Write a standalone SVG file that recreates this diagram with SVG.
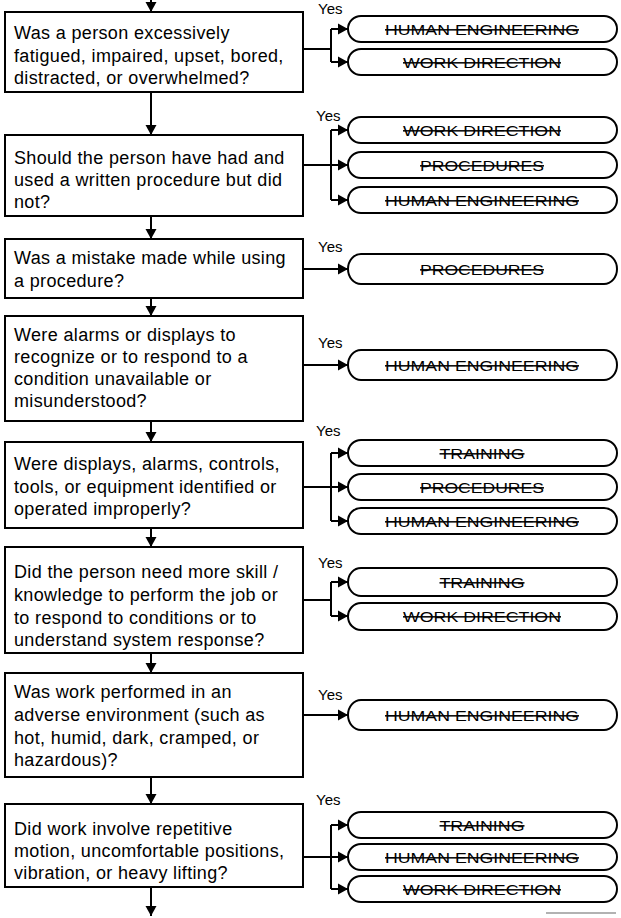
<svg xmlns="http://www.w3.org/2000/svg" width="621" height="918" viewBox="0 0 621 918">
<style>
.box{fill:#fff;stroke:#000;stroke-width:2}
.pill{fill:#fff;stroke:#000;stroke-width:2}
.q{font-family:"Liberation Sans",Arial,sans-serif;font-size:18px;letter-spacing:0.35px;fill:#000}
.p{font-family:"Liberation Sans",Arial,sans-serif;font-size:15px;fill:#000;text-anchor:middle;text-decoration:line-through}
.yes{font-family:"Liberation Sans",Arial,sans-serif;font-size:15px;fill:#000}
.c{fill:none;stroke:#000;stroke-width:2}
.a{fill:none;stroke:#000;stroke-width:2;marker-end:url(#ah)}
</style>
<defs>
<marker id="ah" markerUnits="userSpaceOnUse" markerWidth="12" markerHeight="12" refX="10" refY="6" orient="auto">
<path d="M0,0.5 L10,6 L0,11.5 z" fill="#000"/>
</marker>
</defs>
<rect width="621" height="918" fill="#fff"/>

<g id="connectors">
<line class="a" x1="151" y1="-6" x2="151" y2="12"/>
<line class="a" x1="151" y1="92" x2="151" y2="135"/>
<line class="a" x1="151" y1="216" x2="151" y2="239"/>
<line class="a" x1="151" y1="298" x2="151" y2="316"/>
<line class="a" x1="151" y1="421" x2="151" y2="442"/>
<line class="a" x1="151" y1="528" x2="151" y2="547"/>
<line class="a" x1="151" y1="653" x2="151" y2="673"/>
<line class="a" x1="151" y1="777" x2="151" y2="804"/>
<line class="a" x1="151" y1="887" x2="151" y2="916"/>
<!-- row 1 -->
<path class="c" d="M303,49 H331 M331,29 V62"/>
<line class="a" x1="331" y1="29" x2="348" y2="29"/>
<line class="a" x1="331" y1="62" x2="348" y2="62"/>
<!-- row 2 -->
<path class="c" d="M303,165 H331 M331,130 V200"/>
<line class="a" x1="331" y1="130" x2="348" y2="130"/>
<line class="a" x1="331" y1="165" x2="348" y2="165"/>
<line class="a" x1="331" y1="200" x2="348" y2="200"/>
<!-- row 3 -->
<line class="a" x1="303" y1="269" x2="348" y2="269"/>
<!-- row 4 -->
<line class="a" x1="303" y1="365" x2="348" y2="365"/>
<!-- row 5 -->
<path class="c" d="M303,487 H331 M331,453 V521"/>
<line class="a" x1="331" y1="453" x2="348" y2="453"/>
<line class="a" x1="331" y1="487" x2="348" y2="487"/>
<line class="a" x1="331" y1="521" x2="348" y2="521"/>
<!-- row 6 -->
<path class="c" d="M303,600 H331 M331,582 V616"/>
<line class="a" x1="331" y1="582" x2="348" y2="582"/>
<line class="a" x1="331" y1="616" x2="348" y2="616"/>
<!-- row 7 -->
<line class="a" x1="303" y1="715" x2="348" y2="715"/>
<!-- row 8 -->
<path class="c" d="M303,857 H331 M331,825 V889"/>
<line class="a" x1="331" y1="825" x2="348" y2="825"/>
<line class="a" x1="331" y1="857" x2="348" y2="857"/>
<line class="a" x1="331" y1="889" x2="348" y2="889"/>
<line x1="546" y1="913" x2="616" y2="913" stroke="#999" stroke-width="1.5"/>
</g>

<g id="yes-labels">
<text class="yes" x="318" y="14">Yes</text>
<text class="yes" x="316" y="121">Yes</text>
<text class="yes" x="318" y="252">Yes</text>
<text class="yes" x="318" y="348">Yes</text>
<text class="yes" x="316" y="436">Yes</text>
<text class="yes" x="318" y="568">Yes</text>
<text class="yes" x="318" y="700">Yes</text>
<text class="yes" x="316" y="805">Yes</text>
</g>

<g id="q1"><rect class="box" x="5" y="12" width="298" height="80"/>
<text class="q" x="14" y="39">Was a person excessively</text>
<text class="q" x="14" y="62">fatigued, impaired, upset, bored,</text>
<text class="q" x="14" y="84">distracted, or overwhelmed?</text></g>

<g id="q2"><rect class="box" x="5" y="135" width="298" height="81"/>
<text class="q" x="14" y="164">Should the person have had and</text>
<text class="q" x="14" y="186">used a written procedure but did</text>
<text class="q" x="14" y="208">not?</text></g>

<g id="q3"><rect class="box" x="5" y="239" width="298" height="59"/>
<text class="q" x="14" y="264">Was a mistake made while using</text>
<text class="q" x="14" y="287">a procedure?</text></g>

<g id="q4"><rect class="box" x="5" y="316" width="298" height="105"/>
<text class="q" x="14" y="341">Were alarms or displays to</text>
<text class="q" x="14" y="363">recognize or to respond to a</text>
<text class="q" x="14" y="385">condition unavailable or</text>
<text class="q" x="14" y="407">misunderstood?</text></g>

<g id="q5"><rect class="box" x="5" y="442" width="298" height="86"/>
<text class="q" x="14" y="470">Were displays, alarms, controls,</text>
<text class="q" x="14" y="493">tools, or equipment identified or</text>
<text class="q" x="14" y="515">operated improperly?</text></g>

<g id="q6"><rect class="box" x="5" y="547" width="298" height="106"/>
<text class="q" x="14" y="578">Did the person need more skill /</text>
<text class="q" x="14" y="601">knowledge to perform the job or</text>
<text class="q" x="14" y="624">to respond to conditions or to</text>
<text class="q" x="14" y="646">understand system response?</text></g>

<g id="q7"><rect class="box" x="5" y="673" width="298" height="104"/>
<text class="q" x="14" y="698">Was work performed in an</text>
<text class="q" x="14" y="721">adverse environment (such as</text>
<text class="q" x="14" y="744">hot, humid, dark, cramped, or</text>
<text class="q" x="14" y="766">hazardous)?</text></g>

<g id="q8"><rect class="box" x="5" y="804" width="298" height="83"/>
<text class="q" x="14" y="835">Did work involve repetitive</text>
<text class="q" x="14" y="857">motion, uncomfortable positions,</text>
<text class="q" x="14" y="879">vibration, or heavy lifting?</text></g>

<!-- pills -->
<g id="r1a"><rect class="pill" x="348" y="16" width="269" height="26" rx="13" ry="13"/><text class="p" x="482" y="34.5" textLength="194" lengthAdjust="spacingAndGlyphs">HUMAN ENGINEERING</text></g>
<g id="r1b"><rect class="pill" x="348" y="49" width="269" height="26" rx="13" ry="13"/><text class="p" x="482" y="67.5" textLength="158" lengthAdjust="spacingAndGlyphs">WORK DIRECTION</text></g>

<g id="r2a"><rect class="pill" x="348" y="117" width="269" height="26" rx="13" ry="13"/><text class="p" x="482" y="135.5" textLength="158" lengthAdjust="spacingAndGlyphs">WORK DIRECTION</text></g>
<g id="r2b"><rect class="pill" x="348" y="152" width="269" height="26" rx="13" ry="13"/><text class="p" x="482" y="170.5" textLength="124" lengthAdjust="spacingAndGlyphs">PROCEDURES</text></g>
<g id="r2c"><rect class="pill" x="348" y="187" width="269" height="26" rx="13" ry="13"/><text class="p" x="482" y="205.5" textLength="194" lengthAdjust="spacingAndGlyphs">HUMAN ENGINEERING</text></g>

<g id="r3"><rect class="pill" x="348" y="254" width="269" height="30" rx="13" ry="15"/><text class="p" x="482" y="274.5" textLength="124" lengthAdjust="spacingAndGlyphs">PROCEDURES</text></g>

<g id="r4"><rect class="pill" x="348" y="350" width="269" height="30" rx="13" ry="15"/><text class="p" x="482" y="370.5" textLength="194" lengthAdjust="spacingAndGlyphs">HUMAN ENGINEERING</text></g>

<g id="r5a"><rect class="pill" x="348" y="440" width="269" height="26" rx="13" ry="13"/><text class="p" x="482" y="458.5" textLength="85" lengthAdjust="spacingAndGlyphs">TRAINING</text></g>
<g id="r5b"><rect class="pill" x="348" y="474" width="269" height="26" rx="13" ry="13"/><text class="p" x="482" y="492.5" textLength="124" lengthAdjust="spacingAndGlyphs">PROCEDURES</text></g>
<g id="r5c"><rect class="pill" x="348" y="508" width="269" height="26" rx="13" ry="13"/><text class="p" x="482" y="526.5" textLength="194" lengthAdjust="spacingAndGlyphs">HUMAN ENGINEERING</text></g>

<g id="r6a"><rect class="pill" x="348" y="568" width="269" height="28" rx="13" ry="14"/><text class="p" x="482" y="587.5" textLength="85" lengthAdjust="spacingAndGlyphs">TRAINING</text></g>
<g id="r6b"><rect class="pill" x="348" y="603" width="269" height="27" rx="13" ry="13.5"/><text class="p" x="482" y="621.5" textLength="158" lengthAdjust="spacingAndGlyphs">WORK DIRECTION</text></g>

<g id="r7"><rect class="pill" x="348" y="700" width="269" height="30" rx="13" ry="15"/><text class="p" x="482" y="720.5" textLength="194" lengthAdjust="spacingAndGlyphs">HUMAN ENGINEERING</text></g>

<g id="r8a"><rect class="pill" x="348" y="812" width="269" height="26" rx="13" ry="13"/><text class="p" x="482" y="830.5" textLength="85" lengthAdjust="spacingAndGlyphs">TRAINING</text></g>
<g id="r8b"><rect class="pill" x="348" y="844" width="269" height="26" rx="13" ry="13"/><text class="p" x="482" y="862.5" textLength="194" lengthAdjust="spacingAndGlyphs">HUMAN ENGINEERING</text></g>
<g id="r8c"><rect class="pill" x="348" y="876" width="269" height="26" rx="13" ry="13"/><text class="p" x="482" y="894.5" textLength="158" lengthAdjust="spacingAndGlyphs">WORK DIRECTION</text></g>
</svg>
